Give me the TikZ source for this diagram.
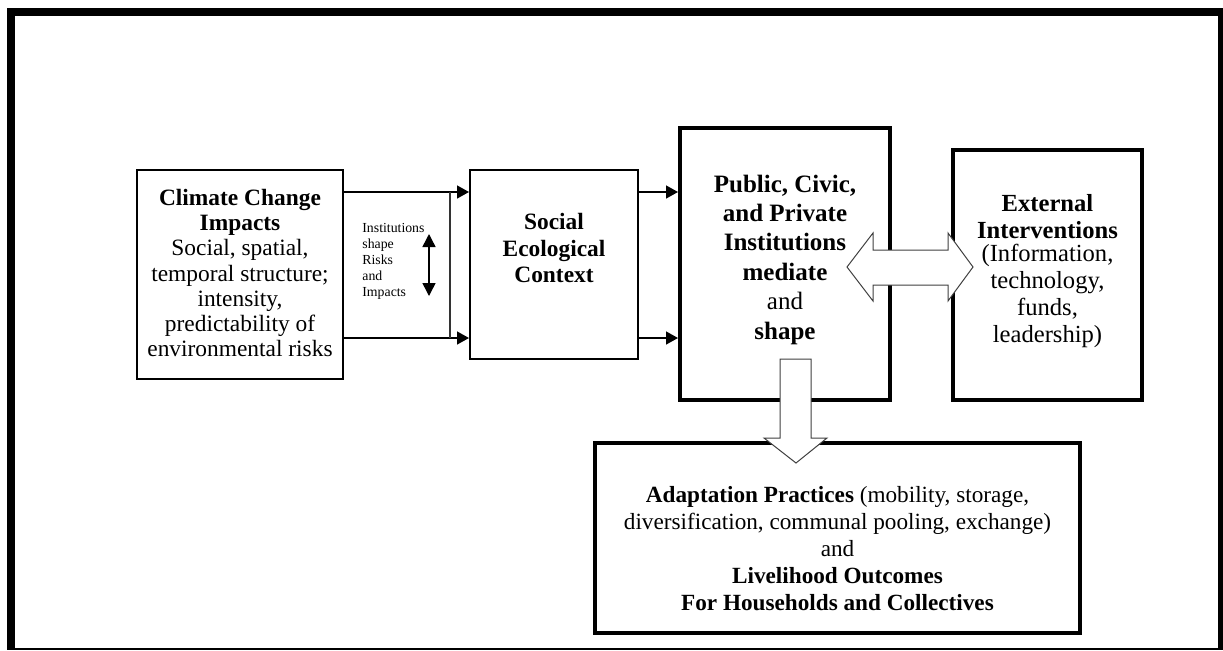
\documentclass[tikz,border=0pt]{standalone}
\usepackage{fontspec}
\setmainfont{Liberation Serif}
\usetikzlibrary{arrows.meta,positioning,calc}

\tikzset{
  box/.style={draw, line width=1pt, inner sep=0pt},
  heavybox/.style={draw, line width=2pt, inner sep=0pt},
  txt/.style={align=center, inner sep=0pt, font=\fontsize{11.7}{12.6}\selectfont},
  flow/.style={-{Triangle[length=6pt,width=6.5pt]}, line width=0.75pt},
  blockarrow/.style={draw=black!75, fill=white, line width=0.5pt, line join=miter},
}

\begin{document}
\begin{tikzpicture}[x=0.5pt, y=-0.5pt]
\useasboundingbox (0,0) rectangle (1223,650);
% frame
\fill[white] (0,0) rectangle (1223,650);
\fill[black] (7,8) rectangle (1223,650);
\fill[white] (15,16) rectangle (1218,648);

% boxes
\node[box, minimum width=103pt, minimum height=104.5pt] (climate) at (240,274.5) {};
\node[box, minimum width=84pt, minimum height=94.5pt] (social) at (554,264.5) {};
\node[heavybox, minimum width=105pt, minimum height=136pt] (public) at (785,264) {};
\node[heavybox, line width=1.8pt, minimum width=94.5pt, minimum height=125pt] (external) at (1047.5,275) {};
\node[heavybox, minimum width=242.5pt, minimum height=95pt] (adapt) at (837.5,538) {};

% texts
\node[txt] (climatetext) at (240,273) {\textbf{Climate Change}\\\textbf{Impacts}\\Social, spatial,\\temporal structure;\\intensity,\\predictability of\\environmental risks};
\node[txt, font=\bfseries\fontsize{11.7}{13.3}\selectfont] (socialtext) at (554,248) {Social\\Ecological\\Context};
\node[txt, font=\fontsize{12.5}{14.7}\selectfont] (publictext) at (785,259.5) {\textbf{Public, Civic,}\\\textbf{and Private}\\\textbf{Institutions}\\\textbf{mediate}\\and\\\textbf{shape}};
\node[txt, font=\fontsize{12.3}{13.5}\selectfont] (externaltext) at (1047.5,271) {\textbf{External}\\\textbf{Interventions}\\[-2pt](Information,\\technology,\\funds,\\leadership)};
\node[txt, font=\fontsize{11.6}{13.5}\selectfont] (adapttext) at (837.5,549) {\textbf{Adaptation Practices} (mobility, storage,\\diversification, communal pooling, exchange)\\and\\\textbf{Livelihood Outcomes}\\\textbf{For Households and Collectives}};
\node[align=left, inner sep=0pt, anchor=west, font=\fontsize{6.9}{8}\selectfont] (shapetext) at (362,261) {Institutions\\shape\\Risks\\and\\Impacts};

% connectors
\coordinate (upper) at (0,192);
\coordinate (lower) at (0,338);
\coordinate (joint) at (450,0);
\draw[flow] (upper -| climate.east) -- (upper -| social.west);
\draw[flow] (lower -| climate.east) -- (lower -| social.west);
\draw[line width=0.75pt, black!80] (upper -| joint) -- (lower -| joint);
\draw[flow] (upper -| social.east) -- (upper -| public.west);
\draw[flow] (lower -| social.east) -- (lower -| public.west);

\coordinate (riskup) at (429,234);
\coordinate (riskdown) at (429,296);
\draw[{Triangle[length=6.5pt,width=6.5pt]}-{Triangle[length=6.5pt,width=6.5pt]}, line width=0.75pt] (riskup) -- (riskdown);

% block arrows
\draw[blockarrow] (847,267) -- (873,233) -- (873,250) -- (948,250) -- (948,233) -- (973,267)
  -- (948,301) -- (948,285) -- (873,285) -- (873,301) -- cycle;
\draw[blockarrow] (780,359) -- (811,359) -- (811,438) -- (827,438) -- (796,463) -- (764,438)
  -- (780,438) -- cycle;
\end{tikzpicture}
\end{document}
